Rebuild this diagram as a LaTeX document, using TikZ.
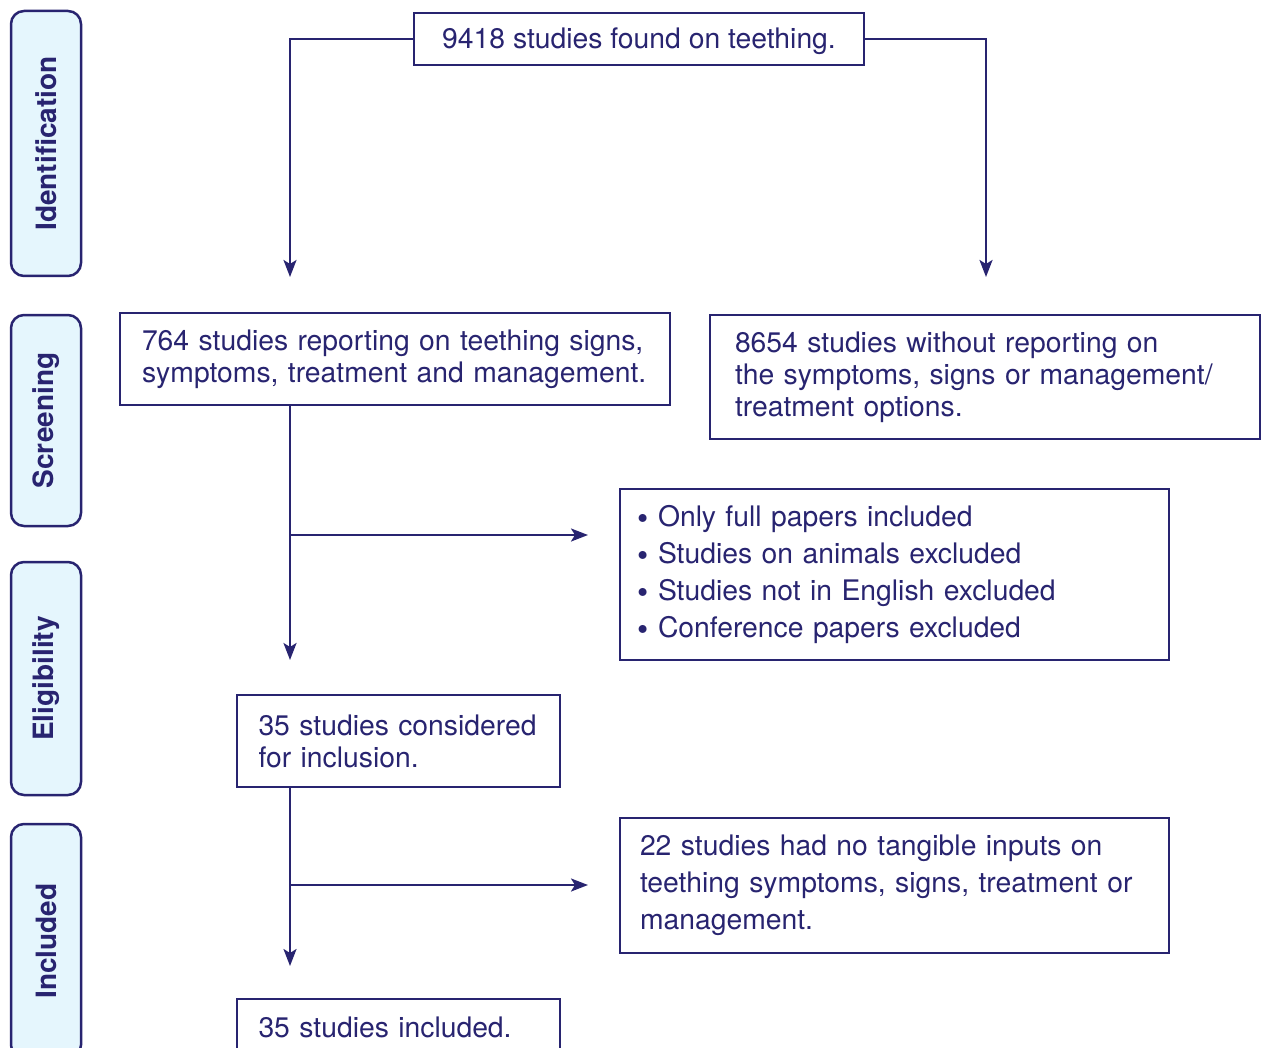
\documentclass[tikz,border=0pt]{standalone}
\usepackage{fontspec}
\setmainfont{TeX Gyre Heros}
\usetikzlibrary{arrows.meta}
\definecolor{prisma}{RGB}{40,36,112}
\definecolor{phasefill}{RGB}{229,246,253}
\newcommand\pbul{\makebox[21pt][l]{\raisebox{-3pt}{\fontsize{32}{32}\selectfont\textbullet}}}

\begin{document}
\begin{tikzpicture}[x=1pt,y=-1pt,line width=2.5pt,prisma]
%  \draw [step=50pt,color=gray] (0,0) grid (1265,1048);
  \useasboundingbox (0,0) rectangle (1265,1048);
  \clip (0,0) rectangle (1265,1048);
  \tikzstyle {every node}=[font=\fontsize{28.3}{32}\selectfont,text=prisma,outer sep=0pt];
  \tikzstyle {phase}=[draw,fill=phasefill,rounded corners=13pt,rotate=90,
    minimum height=70pt,inner sep=0pt,font=\fontsize{28}{32}\selectfont\bfseries];
  \tikzstyle {box}=[draw,align=left,inner ysep=0pt,anchor=north west];
  \tikzstyle {arrow}=[-{Stealth[length=17pt,width=13pt,inset=4pt]}];

  \path (46,143.5) node[phase,minimum width=265pt] (ident) {Identification};
  \path (46,420.5) node[phase,minimum width=211pt] (screen) {Screening};
  \path (46,678.5) node[phase,minimum width=233pt] (elig) {Eligibility};
  \path (46,941) node[phase,minimum width=234pt] (incl) {Included};

  \path (639,39) node[draw,minimum width=450pt,minimum height=52pt,inner sep=0pt,
    text depth=2pt] (found)
    {9418 studies found on teething.};
  \path (120,313) node[box,minimum width=550pt,minimum height=92pt,inner xsep=22pt,
    text width=506pt] (reported)
    {764 studies reporting on teething signs,\\ symptoms, treatment and management.};
  \path (710,315) node[box,minimum width=550pt,minimum height=124pt,inner xsep=25pt,
    text width=500pt] (notreported)
    {8654 studies without reporting on\\ the symptoms, signs or management/\\ treatment options.};
  \path (620,489) node[box,minimum width=549pt,minimum height=171pt,inner xsep=17pt,
    text width=515pt,font=\fontsize{28.3}{37}\selectfont] (criteria)
    {\pbul Only full papers included\\ \pbul Studies on animals excluded\\
     \pbul Studies not in English excluded\\ \pbul Conference papers excluded};
  \path (237,695) node[box,minimum width=323pt,minimum height=92pt,inner xsep=21.5pt,
    text width=280pt] (considered)
    {35 studies considered\\ for inclusion.};
  \path (620,818) node[box,minimum width=549pt,minimum height=135pt,inner xsep=20pt,
    text width=509pt,font=\fontsize{28.3}{37}\selectfont] (excluded)
    {22 studies had no tangible inputs on\\ teething symptoms, signs, treatment or\\ management.};
  \path (237,999) node[box,minimum width=323pt,minimum height=56pt,inner xsep=21.5pt,
    text width=280pt] (included)
    {35 studies included.};

  \coordinate (a1) at (290,277);
  \coordinate (a2) at (986,277);
  \coordinate (a3) at (290,660);
  \coordinate (a4) at (290,966);
  \coordinate (b1) at (290,535);
  \coordinate (b2) at (588,535);
  \coordinate (b3) at (290,885);
  \coordinate (b4) at (588,885);

  \draw [arrow] (found.west) -| (a1);
  \draw [arrow] (found.east) -| (a2);
  \draw [arrow] (reported.south -| a1) -- (a3);
  \draw [arrow] (b1) -- (b2);
  \draw [arrow] (considered.south -| a1) -- (a4);
  \draw [arrow] (b3) -- (b4);
\end{tikzpicture}
\end{document}
